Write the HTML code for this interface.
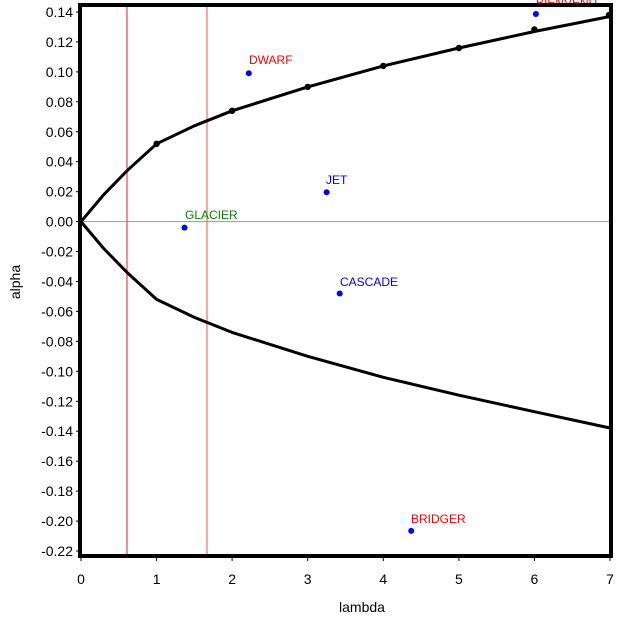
<!DOCTYPE html><html><head><style>body{margin:0;background:#fff}svg{display:block}text{font-family:"Liberation Sans",sans-serif}</style></head><body>
<svg width="624" height="626" viewBox="0 0 624 626">
<line x1="81" y1="221.6" x2="610" y2="221.6" stroke="#999" stroke-width="1"/>
<line x1="127" y1="5" x2="127" y2="556" stroke="#e44" stroke-width="1.2"/>
<line x1="207" y1="5" x2="207" y2="556" stroke="#f66" stroke-width="1.2"/>
<polyline points="81,221.6 103.7,194.7 127.1,170.7 156.6,143.8 194.4,125.8 232.1,110.8 307.7,86.9 383.3,65.9 458.9,48 534.4,31.5 610,16.5" fill="none" stroke="#000" stroke-width="3" stroke-linejoin="round"/>
<polyline points="81,221.6 103.7,248.5 127.1,272.5 156.6,299.4 194.4,317.4 232.1,332.4 307.7,356.3 383.3,377.3 458.9,395.2 534.4,411.7 610,428" fill="none" stroke="#000" stroke-width="3" stroke-linejoin="round"/>
<g fill="#000">
<circle cx="156.6" cy="143.8" r="3.2"/><circle cx="232.1" cy="110.8" r="3.2"/><circle cx="307.7" cy="86.9" r="3.2"/><circle cx="383.3" cy="65.9" r="3.2"/><circle cx="458.9" cy="48" r="3.2"/><circle cx="534.4" cy="29.5" r="3.2"/><circle cx="609" cy="15" r="3.2"/>
</g>
<g font-size="12">
<circle cx="535.9" cy="14.0" r="3" fill="#00f"/><text x="536" y="7" fill="#f00">BIENVENU</text>
<circle cx="248.8" cy="73.3" r="3" fill="#00f"/><text x="249" y="64" fill="#f00">DWARF</text>
<circle cx="326.6" cy="192.2" r="3" fill="#00f"/><text x="326" y="184" fill="#00f">JET</text>
<circle cx="184.5" cy="227.6" r="3" fill="#00f"/><text x="185" y="219" fill="#080">GLACIER</text>
<circle cx="339.7" cy="293.5" r="3" fill="#00f"/><text x="340" y="286" fill="#00f">CASCADE</text>
<circle cx="411.2" cy="530.9" r="3" fill="#00f"/><text x="411" y="523" fill="#f00">BRIDGER</text>
</g>
<g stroke="#000">
<line x1="76" x2="80" y1="12" y2="12"/><line x1="76" x2="80" y1="41.9" y2="41.9"/><line x1="76" x2="80" y1="71.9" y2="71.9"/><line x1="76" x2="80" y1="101.8" y2="101.8"/><line x1="76" x2="80" y1="131.8" y2="131.8"/><line x1="76" x2="80" y1="161.7" y2="161.7"/><line x1="76" x2="80" y1="191.7" y2="191.7"/><line x1="76" x2="80" y1="221.6" y2="221.6"/><line x1="76" x2="80" y1="251.5" y2="251.5"/><line x1="76" x2="80" y1="281.5" y2="281.5"/><line x1="76" x2="80" y1="311.4" y2="311.4"/><line x1="76" x2="80" y1="341.4" y2="341.4"/><line x1="76" x2="80" y1="371.3" y2="371.3"/><line x1="76" x2="80" y1="401.3" y2="401.3"/><line x1="76" x2="80" y1="431.2" y2="431.2"/><line x1="76" x2="80" y1="461.2" y2="461.2"/><line x1="76" x2="80" y1="491.1" y2="491.1"/><line x1="76" x2="80" y1="521.1" y2="521.1"/><line x1="76" x2="80" y1="551" y2="551"/>
<line x1="81" x2="81" y1="556" y2="561"/><line x1="156.6" x2="156.6" y1="556" y2="561"/><line x1="232.1" x2="232.1" y1="556" y2="561"/><line x1="307.7" x2="307.7" y1="556" y2="561"/><line x1="383.3" x2="383.3" y1="556" y2="561"/><line x1="458.9" x2="458.9" y1="556" y2="561"/><line x1="534.4" x2="534.4" y1="556" y2="561"/><line x1="610" x2="610" y1="556" y2="561"/>
</g>
<g font-size="14" text-anchor="end">
<text x="73" y="17">0.14</text><text x="73" y="46.9">0.12</text><text x="73" y="76.9">0.10</text><text x="73" y="106.8">0.08</text><text x="73" y="136.8">0.06</text><text x="73" y="166.7">0.04</text><text x="73" y="196.7">0.02</text><text x="73" y="226.6">0.00</text><text x="73" y="256.5">-0.02</text><text x="73" y="286.5">-0.04</text><text x="73" y="316.4">-0.06</text><text x="73" y="346.4">-0.08</text><text x="73" y="376.3">-0.10</text><text x="73" y="406.3">-0.12</text><text x="73" y="436.2">-0.14</text><text x="73" y="466.2">-0.16</text><text x="73" y="496.1">-0.18</text><text x="73" y="526.1">-0.20</text><text x="73" y="556">-0.22</text>
</g>
<g font-size="14" text-anchor="middle">
<text x="81" y="584">0</text><text x="156.6" y="584">1</text><text x="232.1" y="584">2</text><text x="307.7" y="584">3</text><text x="383.3" y="584">4</text><text x="458.9" y="584">5</text><text x="534.4" y="584">6</text><text x="610" y="584">7</text>
</g>
<rect x="80" y="5" width="531" height="551" fill="none" stroke="#000" stroke-width="4"/>
<text x="362" y="612" font-size="14" text-anchor="middle">lambda</text>
<text transform="translate(20,282) rotate(-90)" font-size="14" text-anchor="middle">alpha</text>
</svg></body></html>
